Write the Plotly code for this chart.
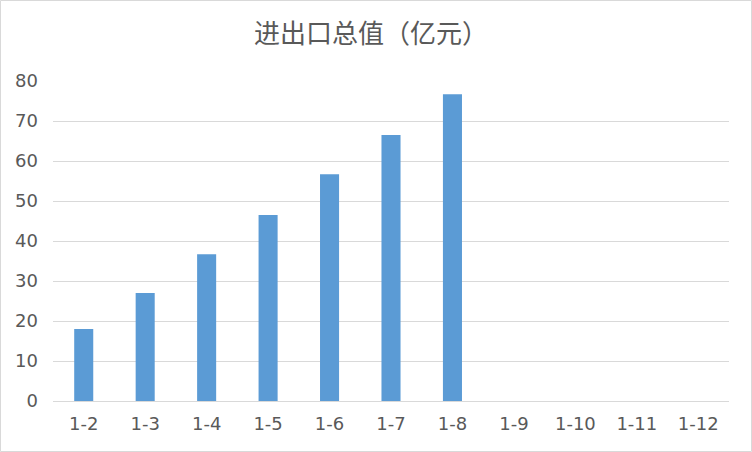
import plotly.graph_objects as go

months = ["1-2", "1-3", "1-4", "1-5", "1-6", "1-7", "1-8", "1-9", "1-10", "1-11", "1-12"]
values = [18.0, 27.0, 36.7, 46.5, 56.7, 66.5, 76.7, None, None, None, None]

W, H = 752, 452
L, R, T, B = 53, 23, 81, 51
pw, ph = W - L - R, H - T - B

fig = go.Figure()
fig.add_trace(go.Bar(x=months, y=values, marker=dict(color="#5b9bd5", line=dict(width=0))))

fig.update_layout(
    width=W, height=H,
    margin=dict(l=L, r=R, t=T, b=B),
    paper_bgcolor="white", plot_bgcolor="white",
    bargap=0.69,
    showlegend=False,
    title=dict(text="进出口总值（亿元）", x=371 / W, xref="container", xanchor="center",
               y=1 - 33.5 / H, yanchor="middle",
               font=dict(family="Noto Sans CJK SC", size=26, color="#595959")),
    font=dict(family="DejaVu Sans", size=18, color="#595959"),
)
fig.update_xaxes(type="category", showgrid=False, showline=True, linecolor="#d9d9d9",
                 linewidth=1, ticks="", ticklabelstandoff=6,
                 tickfont=dict(size=18, color="#595959"))
fig.update_yaxes(range=[0, 80], dtick=10, showgrid=True, gridcolor="#d9d9d9", gridwidth=1,
                 zeroline=False, showline=False, ticks="", ticklabelstandoff=14,
                 tickfont=dict(size=18, color="#595959"))

# chart border
fig.add_shape(type="rect", xref="paper", yref="paper",
              x0=-(L - 0.5) / pw, x1=1 + (R - 0.5) / pw,
              y0=-(B - 0.5) / ph, y1=1 + (T - 0.5) / ph,
              line=dict(color="#d9d9d9", width=1), layer="below")

fig.write_html("out.html", config={"displayModeBar": False},
               post_script="document.body.style.margin='0px';")
